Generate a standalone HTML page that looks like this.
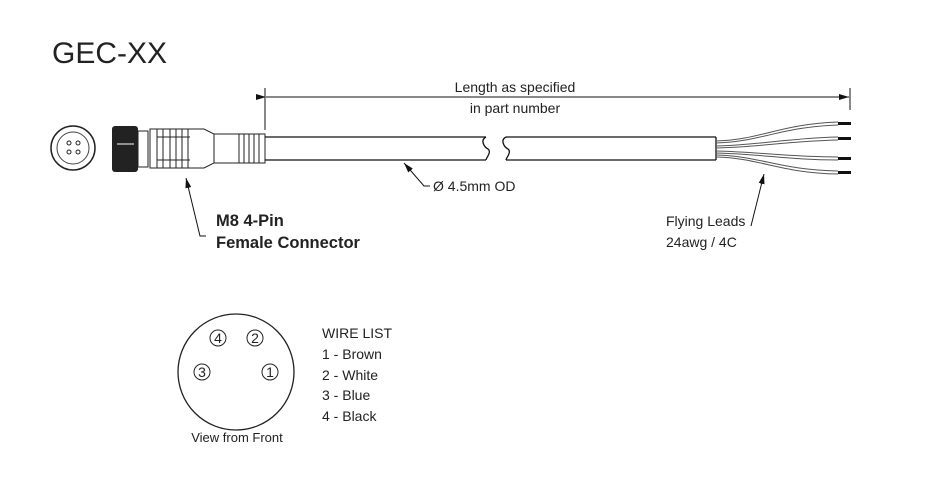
<!DOCTYPE html>
<html><head><style>html,body{margin:0;padding:0;background:#fff}svg{display:block}</style></head><body>
<svg width="931" height="498" viewBox="0 0 931 498" xmlns="http://www.w3.org/2000/svg" font-family="Liberation Sans, Arial, sans-serif">
<defs><marker id="a" markerWidth="10" markerHeight="6" refX="10" refY="3" orient="auto"><path d="M0,0L10,3L0,6z" fill="#111"/></marker></defs>
<text x="52" y="63" font-size="30" fill="#222">GEC-XX</text>
<line x1="265" y1="88" x2="265" y2="130" stroke="#111"/>
<line x1="850" y1="88" x2="850" y2="110" stroke="#111"/>
<line x1="266" y1="97" x2="849" y2="97" stroke="#111" marker-start="url(#a)" marker-end="url(#a)"/>
<text x="515" y="92" font-size="14" text-anchor="middle" fill="#222">Length as specified</text>
<text x="515" y="113" font-size="14" text-anchor="middle" fill="#222">in part number</text>
<circle cx="73" cy="148" r="22" fill="none" stroke="#222" stroke-width="1.5"/>
<circle cx="73" cy="148" r="16" fill="none" stroke="#444"/>
<circle cx="69" cy="143" r="2" fill="none" stroke="#222"/><circle cx="78" cy="143" r="2" fill="none" stroke="#222"/>
<circle cx="69" cy="152" r="2" fill="none" stroke="#222"/><circle cx="78" cy="152" r="2" fill="none" stroke="#222"/>
<rect x="112" y="126" width="26" height="46" rx="3" fill="#222"/>
<line x1="117" y1="144" x2="134" y2="144" stroke="#fff"/>
<rect x="138" y="131" width="10" height="36" fill="#fff" stroke="#222"/>
<path d="M150 129 H204 L214 134 V163 L204 168 H150 Z" fill="#fff" stroke="#222"/>
<g stroke="#222" fill="none"><line x1="157" y1="129" x2="157" y2="168"/><line x1="163" y1="129" x2="163" y2="168"/><line x1="170" y1="129" x2="170" y2="168"/><line x1="176" y1="129" x2="176" y2="168"/><line x1="182" y1="129" x2="182" y2="168"/><line x1="188" y1="129" x2="188" y2="168"/>
<line x1="157" y1="137" x2="190" y2="137"/><line x1="157" y1="160" x2="190" y2="160"/></g>
<rect x="214" y="134" width="51" height="29" fill="#fff" stroke="#222"/>
<g stroke="#222"><line x1="239" y1="134" x2="239" y2="163"/><line x1="244" y1="134" x2="244" y2="163"/><line x1="249" y1="134" x2="249" y2="163"/><line x1="254" y1="134" x2="254" y2="163"/><line x1="259" y1="134" x2="259" y2="163"/></g>
<g stroke="#111" fill="none" stroke-width="1.3">
<line x1="265" y1="137" x2="486" y2="137"/><line x1="265" y1="160" x2="486" y2="160"/>
<line x1="506" y1="137" x2="716" y2="137"/><line x1="506" y1="160" x2="716" y2="160"/>
<line x1="716" y1="137" x2="716" y2="160"/>
<path d="M486 137 C480 140,484 147,488 149 C492 152,486 158,486 160"/>
<path d="M506 137 C500 140,504 147,508 149 C512 152,506 158,506 160"/>
</g>
<g stroke="#555" fill="none" stroke-width="1">
<path d="M716 141 C760 140,780 124,838 122"/><path d="M716 143 C760 142,780 127,838 125"/>
<path d="M716 146 C760 145,790 138,838 137"/><path d="M716 148 C760 147,790 141,838 140"/>
<path d="M716 151 C760 152,790 157,838 157"/><path d="M716 153 C760 154,790 160,838 160"/>
<path d="M716 155 C760 156,780 170,838 171"/><path d="M716 157 C760 158,780 173,838 174"/>
</g>
<g stroke="#111" stroke-width="3"><line x1="838" y1="123.5" x2="851" y2="123.5"/><line x1="838" y1="138.5" x2="851" y2="138.5"/><line x1="838" y1="158.5" x2="851" y2="158.5"/><line x1="838" y1="172.5" x2="851" y2="172.5"/></g>
<g stroke="#111" fill="none">
<polyline points="206,236 200,236 186,178" marker-end="url(#a)"/>
<polyline points="430,186 424,186 404,163" marker-end="url(#a)"/>
<polyline points="751,226 764,174" marker-end="url(#a)"/>
</g>
<text x="216" y="226" font-size="16.5" font-weight="bold" fill="#222">M8 4-Pin</text>
<text x="216" y="248" font-size="16.5" font-weight="bold" fill="#222">Female Connector</text>
<text x="433" y="191" font-size="14" fill="#222">Ø 4.5mm OD</text>
<text x="666" y="226" font-size="14" fill="#222">Flying Leads</text>
<text x="666" y="247" font-size="14" fill="#222">24awg / 4C</text>
<circle cx="236" cy="372" r="58" fill="none" stroke="#222" stroke-width="1.3"/>
<g font-size="14" fill="#222" text-anchor="middle">
<circle cx="218" cy="338" r="8" fill="none" stroke="#222"/><text x="218" y="343">4</text>
<circle cx="255" cy="338" r="8" fill="none" stroke="#222"/><text x="255" y="343">2</text>
<circle cx="202" cy="372" r="8" fill="none" stroke="#222"/><text x="202" y="377">3</text>
<circle cx="270" cy="372" r="8" fill="none" stroke="#222"/><text x="270" y="377">1</text>
<text x="237" y="442" font-size="13">View from Front</text>
</g>
<g font-size="14" fill="#222">
<text x="322" y="338">WIRE LIST</text>
<text x="322" y="359">1 - Brown</text>
<text x="322" y="380">2 - White</text>
<text x="322" y="400">3 - Blue</text>
<text x="322" y="421">4 - Black</text>
</g>
</svg>
</body></html>
